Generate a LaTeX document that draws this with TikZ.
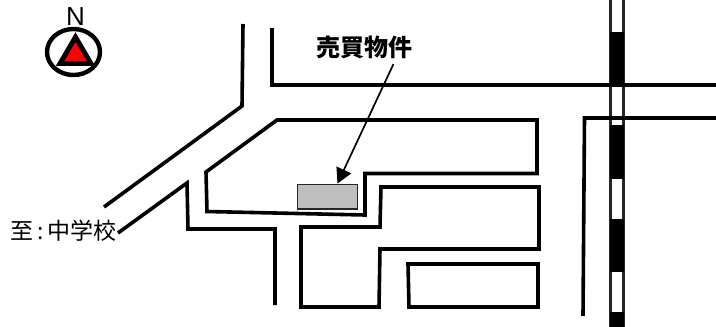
\documentclass[tikz,border=0pt]{standalone}
\usepackage{fontspec}
\setmainfont{Liberation Sans}
\newfontfamily\cjk{Noto Sans CJK JP}
\usetikzlibrary{arrows.meta}
\tikzset{
 road/.style={line width=3.6pt,line join=miter,line cap=butt},
 rail/.style={fill=black,draw=none},
 railedge/.style={draw=black!85,line width=2.6pt},
 lbl/.style={inner sep=0pt,font=\cjk}
}
\begin{document}
\begin{tikzpicture}[x=1pt,y=-1pt]
\useasboundingbox (0,0) rectangle (716,327);
% railway
\draw[railedge] (610.5,0) -- (610.5,327);
\draw[railedge] (623.5,0) -- (623.5,327);
\fill[rail] (610,32) rectangle (624,85);
\fill[rail] (610,125) rectangle (624,179);
\fill[rail] (610,219) rectangle (624,272);
\fill[rail] (610,312) rectangle (624,327);
% roads
\draw[road] (243,24) -- (242,106) -- (104,207);
\draw[road] (272,28) -- (272,85) -- (716,85);
\draw[road] (583,316) -- (584.5,118) -- (716,118);
\draw[road] (277,120) -- (537,120) -- (537,173.5) -- (365,173.5) -- (365,215) -- (207,211.5) -- (206,172) -- cycle;
\draw[road] (275,305) -- (275,229) -- (188,229) -- (187,183) -- (118,233);
\draw[road] (301,307) -- (301,227) -- (380,227) -- (381,187) -- (539,187) -- (539,249) -- (380,249) -- (379,307) -- cycle;
\draw[road] (408,264) -- (538,264) -- (538,307) -- (409,307) -- cycle;
% property
\node[draw=black!85,line width=1.5pt,fill=black!25,minimum width=60pt,minimum height=24.5pt,inner sep=0pt,anchor=north west] (prop) at (296.6,183.6) {};
% labels
\node[lbl,font=\cjk\bfseries\fontsize{24}{24}\selectfont] (title) at (364.5,47.5) {売買物件};
\coordinate (tip) at (337.5,183.5);
\coordinate (tail) at (393.5,64);
\draw[line width=1.7pt,-{Triangle[length=15pt,width=16pt]}] (tail) -- (tip);
\node[lbl,font=\cjk\fontsize{23}{23}\selectfont,anchor=west] (dest) at (10.5,231) {至\hspace{3.5pt}:\hspace{3.5pt}中学校};
% compass
\node[inner sep=0pt,font=\fontsize{26}{26}\selectfont] (north) at (75.5,16.5) {N};
\draw[line width=4.4pt] (73.5,52) ellipse [x radius=26.5,y radius=23];
\draw[line width=4.8pt,fill=red,line join=miter] (75.5,37) -- (91,63.5) -- (60,63.5) -- cycle;
\end{tikzpicture}
\end{document}
